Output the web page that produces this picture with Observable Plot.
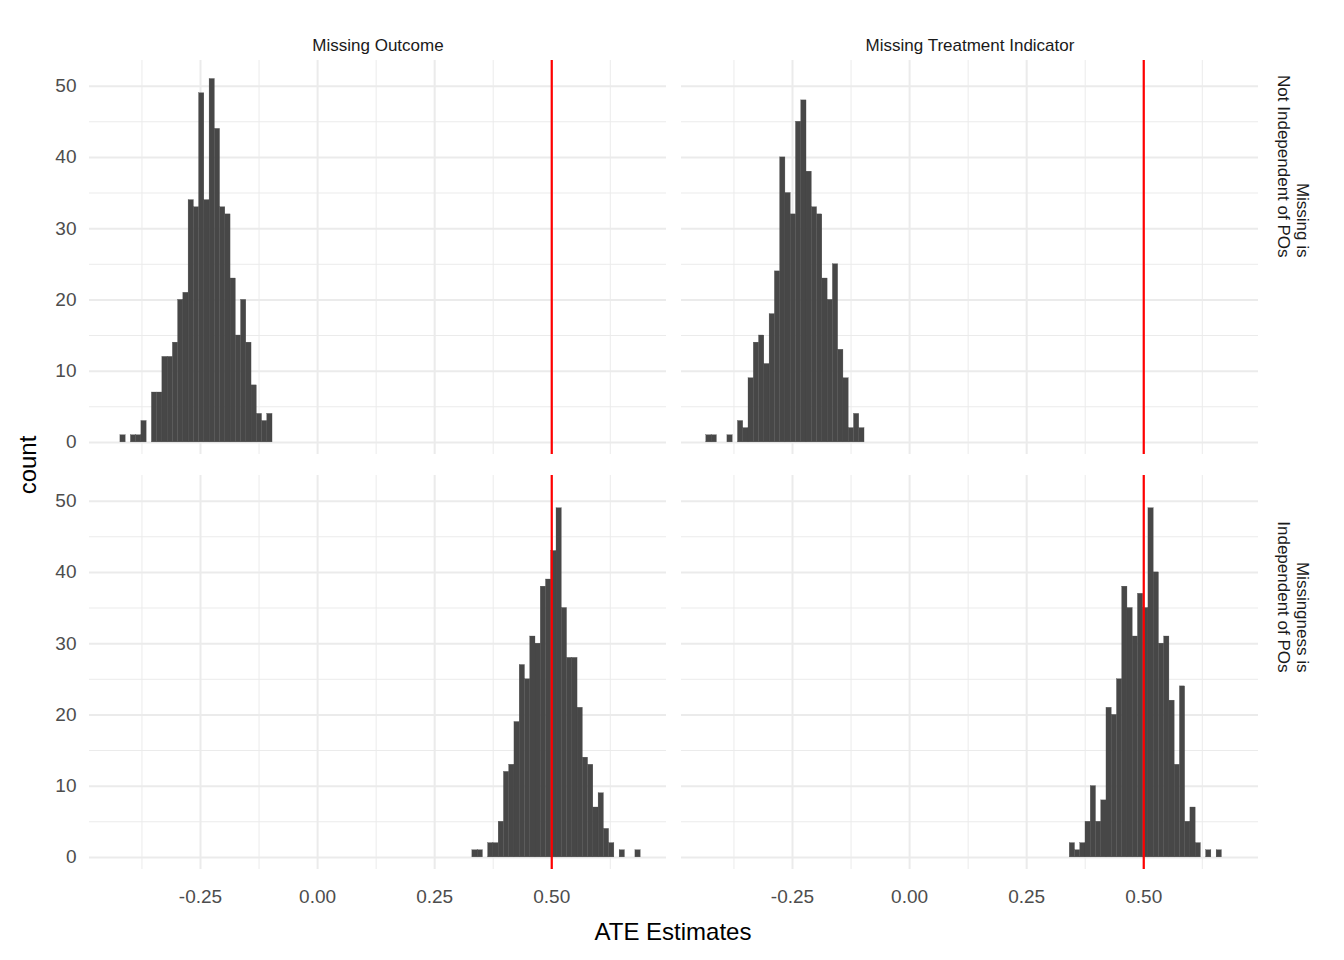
<!DOCTYPE html>
<html><head><meta charset="utf-8">
<script src="https://cdn.jsdelivr.net/npm/d3@7"></script>
<script src="https://cdn.jsdelivr.net/npm/@observablehq/plot@0.6"></script>
<style>body{margin:0;background:#fff}</style>
</head><body><div id="chart"></div>
<script>
const colLabels = ["Missing Outcome", "Missing Treatment Indicator"];
const rowLabels = ["Missing is\nNot Independent of POs", "Missingness is\nIndependent of POs"];
const xTicks = [-0.25, 0, 0.25, 0.5];
const xMinor = [-0.375, -0.125, 0.125, 0.375, 0.625];
const yTicks = [0, 10, 20, 30, 40, 50];
const yMinor = [5, 15, 25, 35, 45];
const trueATE = 0.5;

// histogram bins per panel: first bin start, bin width, counts
const p1Start = -0.421, p1Width = 0.0112;
const p1Counts = [1,0,1,1,3,0,7,7,12,12,14,20,21,34,33,49,34,51,44,33,32,23,15,20,14,8,4,3,4];
const p2Start = -0.434, p2Width = 0.01126;
const p2Counts = [1,1,0,0,1,0,3,2,9,14,15,11,18,24,40,35,32,45,48,38,33,32,23,20,25,13,9,2,4,2];
const p3Start = 0.3305, p3Width = 0.01123;
const p3Counts = [1,1,0,2,2,5,12,13,19,27,25,31,30,38,39,43,49,35,28,28,21,14,13,7,9,4,2,0,1,0,0,1];
const p4Start = 0.342, p4Width = 0.0112;
const p4Counts = [2,1,2,5,10,5,8,21,20,25,38,35,31,37,35,49,40,30,31,22,13,24,5,7,2,0,1,0,1];

const panels = [
  {col: colLabels[0], row: rowLabels[0], start: p1Start, w: p1Width, counts: p1Counts},
  {col: colLabels[1], row: rowLabels[0], start: p2Start, w: p2Width, counts: p2Counts},
  {col: colLabels[0], row: rowLabels[1], start: p3Start, w: p3Width, counts: p3Counts},
  {col: colLabels[1], row: rowLabels[1], start: p4Start, w: p4Width, counts: p4Counts}
];
const bins = panels.flatMap(p => p.counts.map((c, i) => ({
  col: p.col, row: p.row, x1: p.start + i * p.w, x2: p.start + (i + 1) * p.w, count: c
}))).filter(d => d.count > 0);

const fmt = d => d3.format(".2f")(d).replace("\u2212", "-");

const chart = Plot.plot({
  width: 1344, height: 960,
  marginLeft: 88, marginRight: 86, marginTop: 60, marginBottom: 90,
  style: {fontFamily: "Liberation Sans, Arial, sans-serif", fontSize: "19px", color: "#4d4d4d", background: "#fff"},
  fx: {domain: colLabels, paddingInner: 0.026, paddingOuter: 0, axis: null},
  fy: {domain: rowLabels, paddingInner: 0.05, paddingOuter: 0, axis: null},
  x: {domain: [-0.487, 0.745], ticks: xTicks, tickFormat: fmt, tickSize: 0, tickPadding: 20, label: null},
  y: {domain: [-1.7, 53.6], ticks: yTicks, tickSize: 0, tickPadding: 13, label: null},
  marks: [
    Plot.ruleX(xMinor, {stroke: "#ebebeb", strokeWidth: 1}),
    Plot.ruleY(yMinor, {stroke: "#ebebeb", strokeWidth: 1}),
    Plot.ruleX(xTicks, {stroke: "#ebebeb", strokeWidth: 2}),
    Plot.ruleY(yTicks, {stroke: "#ebebeb", strokeWidth: 2}),
    Plot.rectY(bins, {fx: "col", fy: "row", x1: "x1", x2: "x2", y1: 0, y2: "count", fill: "#474747", inset: 0, stroke: "#474747", strokeWidth: 0.3}),
    Plot.ruleX([trueATE], {stroke: "#ff0000", strokeWidth: 2.2}),
    Plot.text(colLabels, {fx: d => d, fy: () => rowLabels[0], text: d => d, frameAnchor: "top", dy: -22, fontSize: 17, fill: "#1a1a1a"}),
    Plot.text(rowLabels, {fy: d => d, fx: () => colLabels[1], text: d => d, frameAnchor: "right", dx: 35, rotate: 90, fontSize: 17, fill: "#1a1a1a", lineHeight: 1.1})
  ]
});
document.getElementById("chart").appendChild(chart);
const svg = d3.select(chart);
svg.append("text").attr("x", 673).attr("y", 940).attr("text-anchor", "middle")
  .attr("font-size", 24).attr("fill", "#000").attr("font-family", "Liberation Sans, Arial, sans-serif").text("ATE Estimates");
svg.append("text").attr("transform", "translate(36,465) rotate(-90)").attr("text-anchor", "middle")
  .attr("font-size", 24).attr("fill", "#000").attr("font-family", "Liberation Sans, Arial, sans-serif").text("count");
</script></body></html>
